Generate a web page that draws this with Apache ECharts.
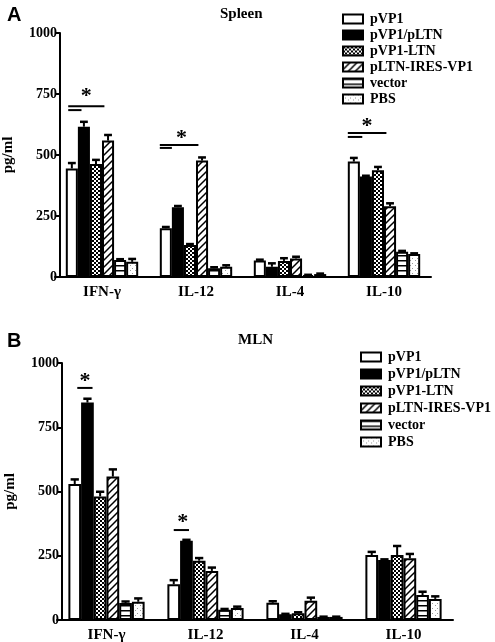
<!DOCTYPE html>
<html><head><meta charset="utf-8">
<script src="https://cdn.jsdelivr.net/npm/echarts@6/dist/echarts.min.js"></script>
<style>html,body{margin:0;padding:0;background:#fff}#c{width:495px;height:642px}</style>
</head><body><div id="c"></div>
<script>
const categories = ['IFN-γ', 'IL-12', 'IL-4', 'IL-10'];
const seriesNames = ['pVP1', 'pVP1/pLTN', 'pVP1-LTN', 'pLTN-IRES-VP1', 'vector', 'PBS'];
const yTicks = [0, 250, 500, 750, 1000];

// Panel A - Spleen (means, SEM)
const spleen_pVP1 = [445, 200, 68, 473];
const spleen_pVP1_pLTN = [616, 286, 42, 412];
const spleen_pVP1_LTN = [463, 131, 66, 438];
const spleen_pLTN_IRES_VP1 = [559, 477, 76, 290];
const spleen_vector = [70, 36, 8, 103];
const spleen_PBS = [62, 42, 12, 94];
const spleenSem_pVP1 = [22, 5, 3, 15];
const spleenSem_pVP1_pLTN = [20, 5, 14, 3];
const spleenSem_pVP1_LTN = [17, 4, 11, 13];
const spleenSem_pLTN_IRES_VP1 = [23, 13, 7, 12];
const spleenSem_vector = [3, 4, 1, 4];
const spleenSem_PBS = [12, 6, 2, 3];

// Panel B - MLN (means, SEM)
const mln_pVP1 = [529, 139, 67, 253];
const mln_pVP1_pLTN = [846, 308, 22, 233];
const mln_pVP1_LTN = [481, 231, 26, 253];
const mln_pLTN_IRES_VP1 = [558, 191, 75, 240];
const mln_vector = [66, 40, 12, 97];
const mln_PBS = [71, 47, 12, 82];
const mlnSem_pVP1 = [18, 16, 6, 12];
const mlnSem_pVP1_pLTN = [15, 4, 2, 3];
const mlnSem_pVP1_LTN = [18, 10, 4, 35];
const mlnSem_pLTN_IRES_VP1 = [28, 13, 12, 17];
const mlnSem_vector = [6, 3, 1, 13];
const mlnSem_PBS = [13, 5, 1, 10];

// significance marks: [category, lineFrom, lineTo, lineValue, shortTo, shortValue, starX, starValue] (x in bar widths from category centre)
const spleenSig = [
  [0, -2.8, 0.2, 700, -1.7, 684, -1.3, 742],
  [1, -3.0, 0.2, 541, -2.0, 529, -1.2, 568],
  [3, -3.0, 0.2, 590, -1.8, 574, -1.4, 617]
];
const mlnSig = [
  [0, -2.3, -1.1, 903, null, null, -1.7, 928],
  [1, -2.5, -1.3, 350, null, null, -1.8, 380]
];

const spleenMeans = [spleen_pVP1, spleen_pVP1_pLTN, spleen_pVP1_LTN, spleen_pLTN_IRES_VP1, spleen_vector, spleen_PBS];
const spleenSems = [spleenSem_pVP1, spleenSem_pVP1_pLTN, spleenSem_pVP1_LTN, spleenSem_pLTN_IRES_VP1, spleenSem_vector, spleenSem_PBS];
const mlnMeans = [mln_pVP1, mln_pVP1_pLTN, mln_pVP1_LTN, mln_pLTN_IRES_VP1, mln_vector, mln_PBS];
const mlnSems = [mlnSem_pVP1, mlnSem_pVP1_pLTN, mlnSem_pVP1_LTN, mlnSem_pLTN_IRES_VP1, mlnSem_vector, mlnSem_PBS];

function makePattern(kind) {
  const c = document.createElement('canvas');
  const ctx = c.getContext('2d');
  if (kind === 'checker') {
    c.width = 4; c.height = 4;
    ctx.fillStyle = '#fff'; ctx.fillRect(0, 0, 4, 4);
    ctx.fillStyle = '#000'; ctx.fillRect(0, 0, 2, 2); ctx.fillRect(2, 2, 2, 2);
  } else if (kind === 'hatch') {
    c.width = 7; c.height = 7;
    ctx.fillStyle = '#fff'; ctx.fillRect(0, 0, 7, 7);
    ctx.strokeStyle = '#000'; ctx.lineWidth = 1.5;
    ctx.beginPath();
    ctx.moveTo(-1, 8); ctx.lineTo(8, -1);
    ctx.moveTo(-1, 1); ctx.lineTo(1, -1);
    ctx.moveTo(6, 8); ctx.lineTo(8, 6);
    ctx.stroke();
  } else if (kind === 'hlines') {
    c.width = 4; c.height = 5;
    ctx.fillStyle = '#fff'; ctx.fillRect(0, 0, 4, 5);
    ctx.fillStyle = '#000'; ctx.fillRect(0, 0, 4, 1.5);
  } else if (kind === 'dots') {
    c.width = 5; c.height = 5;
    ctx.fillStyle = '#fff'; ctx.fillRect(0, 0, 5, 5);
    ctx.fillStyle = '#999'; ctx.fillRect(0, 0, 1, 1); ctx.fillRect(2, 3, 1, 1);
  }
  return { image: c, repeat: 'repeat' };
}
const fills = ['#ffffff', '#000000', makePattern('checker'), makePattern('hatch'), makePattern('hlines'), makePattern('dots')];

const GAP = 0.23;
const N = 6;
const serif = '"Liberation Serif", "Times New Roman", serif';

function errRender(si) {
  return function (params, api) {
    const x = api.value(0), lo = api.value(1), hi = api.value(2);
    const band = api.size([1, 0])[0];
    const bw = band * (1 - GAP) / N;
    const p0 = api.coord([x, lo]);
    const p1 = api.coord([x, hi]);
    const cx = p0[0] + (si - (N - 1) / 2) * bw;
    const cw = bw * 0.65;
    return { type: 'group', children: [
      { type: 'line', shape: { x1: cx, y1: p0[1], x2: cx, y2: p1[1] }, style: { stroke: '#000', lineWidth: 2 } },
      { type: 'line', shape: { x1: cx - cw / 2, y1: p1[1], x2: cx + cw / 2, y2: p1[1] }, style: { stroke: '#000', lineWidth: 2.5 } }
    ]};
  };
}

function sigRender(params, api) {
  const cat = api.value(0);
  const band = api.size([1, 0])[0];
  const bw = band * (1 - GAP) / N;
  const c = api.coord([cat, api.value(3)]);
  const children = [
    { type: 'line', shape: { x1: c[0] + api.value(1) * bw, y1: c[1], x2: c[0] + api.value(2) * bw, y2: c[1] }, style: { stroke: '#000', lineWidth: 2 } }
  ];
  const sv = api.value(5);
  if (sv !== null && !isNaN(sv)) {
    const s = api.coord([cat, sv]);
    children.push({ type: 'line', shape: { x1: c[0] + api.value(1) * bw, y1: s[1], x2: c[0] + api.value(4) * bw, y2: s[1] }, style: { stroke: '#000', lineWidth: 2 } });
  }
  const st = api.coord([cat, api.value(7)]);
  children.push({ type: 'text', style: { text: '*', x: c[0] + api.value(6) * bw, y: st[1], fill: '#000', font: 'bold 22px ' + serif, align: 'center', verticalAlign: 'middle' } });
  return { type: 'group', children };
}

const series = [];
[[spleenMeans, spleenSems, 0], [mlnMeans, mlnSems, 1]].forEach(([means, sems, gi]) => {
  means.forEach((arr, si) => {
    series.push({
      type: 'bar', name: seriesNames[si], xAxisIndex: gi, yAxisIndex: gi,
      data: arr, barGap: 0, barCategoryGap: (GAP * 100) + '%',
      itemStyle: { color: fills[si], borderColor: '#000', borderWidth: 2 },
      emphasis: { disabled: true }, z: 2
    });
  });
  means.forEach((arr, si) => {
    series.push({
      type: 'custom', xAxisIndex: gi, yAxisIndex: gi, z: 3, silent: true,
      renderItem: errRender(si),
      data: arr.map((v, i) => [i, v, v + sems[si][i]]),
      encode: { x: 0, y: [1, 2] }
    });
  });
  series.push({
    type: 'custom', xAxisIndex: gi, yAxisIndex: gi, z: 4, silent: true,
    renderItem: sigRender,
    data: (gi === 0 ? spleenSig : mlnSig).map(r => r.map(v => v === null ? '-' : v)),
    encode: { x: 0, y: 3 }
  });
});

function xAxis(gi) {
  return {
    type: 'category', gridIndex: gi, data: categories,
    axisLine: { lineStyle: { color: '#000', width: 2 } },
    axisTick: { show: false },
    axisLabel: { color: '#000', fontFamily: serif, fontWeight: 'bold', fontSize: 15, margin: 8 }
  };
}
function yAxis(gi) {
  return {
    type: 'value', gridIndex: gi, min: yTicks[0], max: yTicks[yTicks.length - 1], interval: 250,
    offset: -5,
    axisLine: { show: true, lineStyle: { color: '#000', width: 2 } },
    axisTick: { show: true, length: 5, lineStyle: { color: '#000', width: 2 } },
    splitLine: { show: false },
    axisLabel: { color: '#000', fontFamily: serif, fontWeight: 'bold', fontSize: 14, margin: 3, formatter: v => String(v) },
    name: 'pg/ml', nameLocation: 'middle', nameRotate: 90, nameGap: 44,
    nameTextStyle: { color: '#000', fontFamily: serif, fontWeight: 'bold', fontSize: 15 }
  };
}
function legend(left, top, gap) {
  return {
    orient: 'vertical', left, top, icon: 'rect', itemWidth: 20, itemHeight: 9, itemGap: gap,
    selectedMode: false, data: seriesNames,
    itemStyle: { borderWidth: 2, borderColor: '#000' },
    textStyle: { color: '#000', fontFamily: serif, fontWeight: 'bold', fontSize: 14, padding: [0, 0, 0, 2] }
  };
}

const chart = echarts.init(document.getElementById('c'), null, { renderer: 'canvas' });
chart.setOption({
  animation: false,
  backgroundColor: '#fff',
  title: [
    { text: 'A', left: 2, top: 0, textStyle: { fontFamily: '"Liberation Sans", Arial, sans-serif', fontWeight: 'bold', fontSize: 20, color: '#000' } },
    { text: 'Spleen', left: 215, top: 2, textStyle: { fontFamily: serif, fontWeight: 'bold', fontSize: 15, color: '#000' } },
    { text: 'B', left: 2, top: 326, textStyle: { fontFamily: '"Liberation Sans", Arial, sans-serif', fontWeight: 'bold', fontSize: 20, color: '#000' } },
    { text: 'MLN', left: 233, top: 328, textStyle: { fontFamily: serif, fontWeight: 'bold', fontSize: 15, color: '#000' } }
  ],
  legend: [legend(337, 7, 2), legend(355, 345, 3)],
  grid: [
    { left: 55, width: 376, top: 33, height: 244, containLabel: false, outerBoundsMode: 'none' },
    { left: 57, width: 396, top: 363, height: 257, containLabel: false, outerBoundsMode: 'none' }
  ],
  xAxis: [xAxis(0), xAxis(1)],
  yAxis: [yAxis(0), yAxis(1)],
  series
});
</script></body></html>
